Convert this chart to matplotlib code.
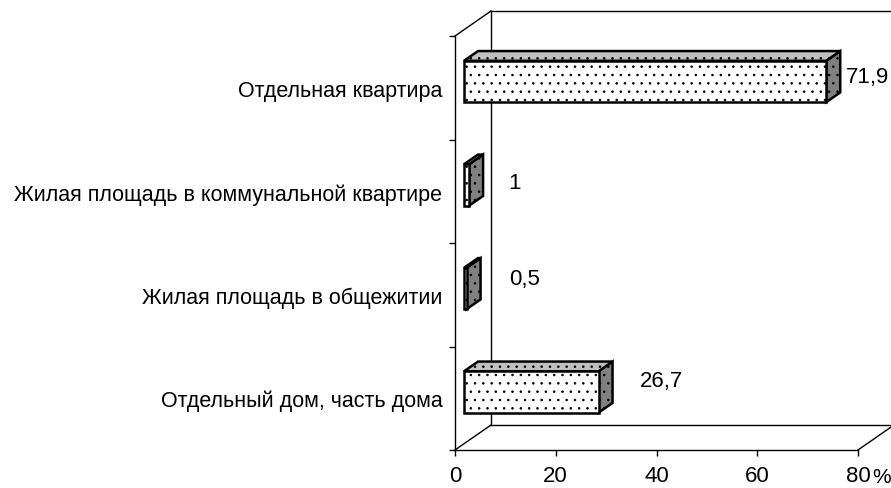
import matplotlib
matplotlib.use("Agg")
import matplotlib.pyplot as plt
import numpy as np
from matplotlib.patches import Polygon
from matplotlib.lines import Line2D
from matplotlib.transforms import IdentityTransform

# Data
categories = ["Отдельная квартира",
              "Жилая площадь в коммунальной квартире",
              "Жилая площадь в общежитии",
              "Отдельный дом, часть дома"]
values = [71.9, 1.0, 0.5, 26.7]
value_labels = ["71,9", "1", "0,5", "26,7"]
x_ticks = [0, 20, 40, 60, 80]
x_tick_labels = ["0", "20", "40", "60", "80"]

# Style / layout
plt.rcParams["font.family"] = ["Liberation Sans", "DejaVu Sans"]
plt.rcParams["hatch.linewidth"] = 0.6
W, H, DPI = 891, 489, 100
DEPTH = np.array([36.0, 25.0])     # 3-D depth vector of the plot box, pixels
BAR_D0, BAR_D1 = 0.25, 0.64       # bar depth span as fraction of box depth
BAR_H = 0.4
FRONT_C, TOP_C, SIDE_C = "#ffffff", "#c0c0c0", "#808080"
# label offsets (pixels) from the value point on the front plane
label_offsets = [(29, 11), (48, 9), (52, 16), (50, 18)]

fig = plt.figure(figsize=(W / DPI, H / DPI), dpi=DPI)
ax = fig.add_axes([455 / W, (H - 451) / H, (858 - 455) / W, (451 - 37) / H])
n = len(categories)
ax.set_xlim(0, 80)
ax.set_ylim(n - 0.5, -0.5)
ax.patch.set_visible(False)
for s in ("top", "right"):
    ax.spines[s].set_visible(False)
for s in ("left", "bottom"):
    ax.spines[s].set_linewidth(1.0)

ax.set_xticks(x_ticks)
ax.set_xticklabels(x_tick_labels, fontsize=16)
ax.tick_params(axis="x", length=4.5, width=1, pad=6, direction="out")
ax.set_yticks(np.arange(-0.5, n, 1.0))
ax.set_yticklabels([])
ax.tick_params(axis="y", which="major", length=4.5, width=1, direction="out")
ax.set_yticks(np.arange(n), minor=True)
ax.set_yticklabels(categories, minor=True, fontsize=15.5)
ax.tick_params(axis="y", which="minor", length=0, pad=9)

fig.text(872.5 / W, (H - 478) / H, "%", fontsize=15, va="center", ha="left")


def P(x, y, d):
    """Display position of data point (x, y) pushed back by depth fraction d."""
    return ax.transData.transform((x, y)) + d * DEPTH


def line(a, b, **kw):
    ax.add_line(Line2D([a[0], b[0]], [a[1], b[1]], transform=IdentityTransform(),
                       color="black", lw=1.0, clip_on=False, **kw))


y_top, y_bot = -0.5, n - 0.5
# back wall and floor edges
line(P(0, y_top, 1), P(0, y_bot, 1))
line(P(0, y_top, 1), P(80, y_top, 1))
line(P(0, y_bot, 1), P(80, y_bot, 1))
line(P(0, y_top, 0), P(0, y_top, 1))
line(P(0, y_bot, 0), P(0, y_bot, 1))
line(P(80, y_bot, 0), P(80, y_bot, 1))


def face(pts, color):
    ax.add_patch(Polygon(np.array(pts), closed=True, transform=IdentityTransform(),
                         facecolor=color, edgecolor="black", lw=1.8, hatch="..",
                         joinstyle="miter", clip_on=False, zorder=3))


for i, v in enumerate(values):
    yt, yb = i - BAR_H / 2, i + BAR_H / 2
    face([P(v, yt, BAR_D0), P(v, yb, BAR_D0), P(v, yb, BAR_D1), P(v, yt, BAR_D1)], SIDE_C)
    face([P(0, yt, BAR_D0), P(v, yt, BAR_D0), P(v, yt, BAR_D1), P(0, yt, BAR_D1)], TOP_C)
    face([P(0, yt, BAR_D0), P(v, yt, BAR_D0), P(v, yb, BAR_D0), P(0, yb, BAR_D0)], FRONT_C)
    dx, dy = label_offsets[i]
    ax.annotate(value_labels[i], xy=(v, i), xytext=(dx, dy), textcoords="offset pixels",
                ha="left", va="center", fontsize=16, annotation_clip=False)

fig.savefig("out.png", dpi=DPI)
